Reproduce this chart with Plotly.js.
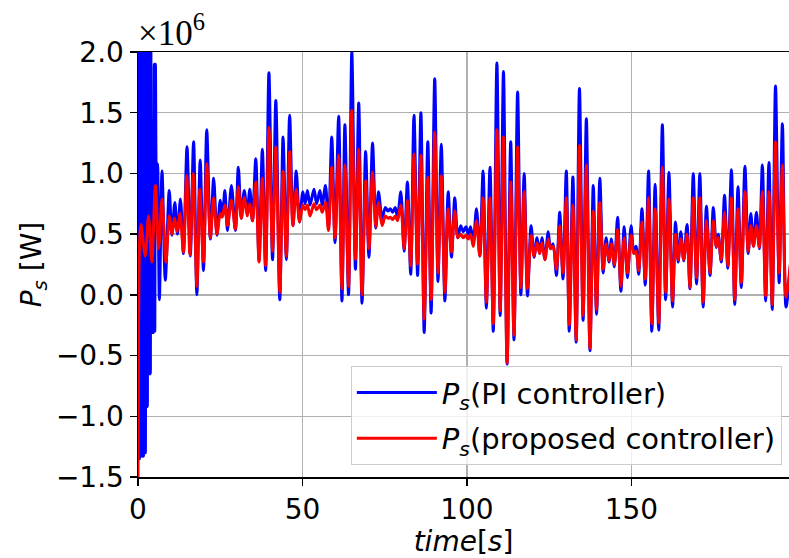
<!DOCTYPE html>
<html>
<head>
<meta charset="utf-8">
<script src="https://cdn.plot.ly/plotly-3.0.1.min.js"></script>
<style>html,body{margin:0;padding:0;background:#fff;}#chart{width:789px;height:558px;}</style>
</head>
<body>
<div id="chart"></div>
<script>
// Values in units of 10^6 W (axis shows ×10^6)
const tBlue = [0.0,0.15,0.3,0.45,0.6,0.75,0.9,1.05,1.2,1.35,1.5,1.65,1.8,1.95,2.1,2.25,2.4,2.55,2.7,2.85,3.0,3.15,3.3,3.45,3.6,3.75,3.9,4.05,4.2,4.35,4.5,4.7,4.95,5.1,5.3,5.6,5.95,6.5,7.3,8.3,9.5,10.3,11.2,12.0,12.9,13.8,14.9,15.9,16.9,17.9,18.9,19.9,20.9,22.0,23.0,24.0,25.0,25.7,26.4,27.2,28.4,29.6,30.5,31.4,32.3,
33.2,34.0,34.8,35.8,36.8,37.8,38.8,39.8,40.9,41.9,43.1,44.1,45.1,46.1,47.1,48.1,49.1,50.1,50.8,51.5,52.3,53.5,54.3,55.3,56.0,57.0,57.9,58.9,59.9,61.0,62.0,62.9,64.0,65.0,
66.1,67.1,68.1,69.2,70.2,71.3,72.3,73.1,74.2,75.2,76.0,76.7,77.4,78.2,78.9,79.9,80.9,81.9,82.9,83.9,85.0,86.0,87.0,88.1,89.1,90.2,91.2,92.2,93.3,94.3,95.3,96.3,97.2,98.1,
98.9,99.7,100.4,101.1,101.9,102.9,103.9,104.9,105.9,107.0,108.0,109.1,110.1,111.1,112.2,113.3,114.3,115.4,116.4,117.4,118.4,119.5,120.4,121.3,122.1,122.8,123.7,124.7,125.4,126.2,127.2,128.2,129.2,130.2,131.1,
132.2,133.2,134.2,135.3,136.3,137.4,138.4,139.4,140.4,141.4,142.3,143.2,143.9,144.8,145.8,146.8,147.8,148.8,149.9,150.7,151.4,152.2,153.2,154.2,155.2,156.2,157.2,158.3,159.4,160.4,161.4,162.5,163.4,
164.2,165.0,165.9,166.9,167.8,168.8,169.8,170.8,171.8,172.8,173.9,174.9,175.8,176.4,177.3,178.3,179.3,180.4,181.4,182.4,183.4,184.5,185.5,186.3,187.1,188.0,188.9,189.8,190.8,191.8,192.8,193.8,194.9,195.9,197.0,198.5];
const pBlue = [0.4,-1.35,2.3,-1.35,2.3,-1.33,2.3,-1.33,2.3,-1.33,2.3,-1.33,2.3,-1.3,2.3,-1.3,2.3,-0.92,2.3,-0.92,2.3,-0.65,2.3,-0.65,2.3,-0.65,2.3,-0.31,1.44,-0.31,1.44,-0.31,1.9,-0.3,1.9,0.9,1.08,-0.04,1.02,0.12,0.86,0.49,0.76,0.5,0.79,0.34,1.22,0.32,1.26,0.0,1.11,0.2,1.36,0.46,0.96,0.49,0.78,0.65,0.86,0.53,0.9,0.53,1.05,0.63,0.86,
0.68,0.87,0.61,1.12,0.28,1.2,0.2,1.83,0.29,1.6,-0.04,1.3,0.29,1.48,0.57,1.02,0.6,0.85,0.75,0.86,0.74,0.87,0.75,0.86,0.74,0.9,0.55,1.3,0.43,1.47,-0.05,1.4,0.0,2.0,
0.21,1.58,-0.07,1.18,0.31,1.25,0.55,0.85,0.63,0.72,0.69,0.71,0.68,0.72,0.64,0.85,0.36,0.93,0.17,1.48,0.16,1.5,-0.31,1.26,-0.15,1.78,0.11,1.24,-0.05,0.85,0.31,0.8,0.47,0.57,
0.52,0.56,0.5,0.56,0.43,0.71,0.32,1.02,-0.11,1.05,-0.3,1.91,-0.17,1.84,-0.57,1.26,-0.37,1.67,0.0,1.0,-0.01,0.57,0.31,0.47,0.34,0.47,0.29,0.52,0.38,0.42,0.16,0.68,0.13,1.02,-0.3,
0.97,-0.39,1.7,-0.21,1.45,-0.46,0.9,-0.16,0.96,0.18,0.47,0.27,0.46,0.23,0.64,0.03,0.56,0.14,0.57,0.35,0.4,0.17,0.71,0.08,1.02,-0.3,0.91,-0.29,1.4,-0.04,1.01,-0.1,0.6,
0.27,0.52,0.28,0.58,0.05,1.0,0.09,1.0,-0.1,0.73,0.16,0.72,0.39,0.5,0.27,0.82,0.22,1.03,-0.08,0.89,0.06,1.06,0.34,0.67,0.4,0.68,0.38,1.07,-0.05,1.09,-0.12,1.72,0.1,1.41,-0.1,0.3];

const tRed = [0.0,0.5,0.9,2.2,3.2,4.2,5.3,6.3,7.3,8.5,9.5,10.3,11.1,11.9,12.8,13.8,14.8,15.8,16.8,17.9,18.8,19.9,20.9,22.0,23.0,24.0,25.0,25.6,26.4,27.2,28.4,29.6,30.5,31.4,32.3,
33.2,34.0,34.8,35.8,36.8,37.8,38.8,39.8,40.9,41.9,43.1,44.1,45.1,46.1,47.1,48.1,49.1,50.1,50.8,51.5,52.3,53.5,54.3,55.3,56.0,57.0,57.9,58.9,59.9,61.0,62.0,62.9,64.0,65.0,
66.1,67.1,68.1,69.2,70.2,71.3,72.3,73.1,74.2,75.2,76.0,76.7,77.4,78.2,78.9,79.9,80.9,81.9,82.9,83.9,85.0,86.0,87.0,88.1,89.1,90.2,91.2,92.2,93.3,94.3,95.3,96.3,97.2,98.1,
98.9,99.7,100.4,101.1,101.9,102.9,103.9,104.9,105.9,107.0,108.0,109.1,110.1,111.1,112.2,113.3,114.3,115.4,116.4,117.4,118.4,119.5,120.4,121.3,122.1,122.8,123.7,124.7,125.4,126.2,127.2,128.2,129.2,130.2,131.1,
132.2,133.2,134.2,135.3,136.3,137.4,138.4,139.4,140.4,141.4,142.3,143.2,143.9,144.8,145.8,146.8,147.8,148.8,149.9,150.7,151.4,152.2,153.2,154.2,155.2,156.2,157.2,158.3,159.4,160.4,161.4,162.5,163.4,
164.2,165.0,165.9,166.9,167.8,168.8,169.8,170.8,171.8,172.8,173.9,174.9,175.8,176.4,177.3,178.3,179.3,180.4,181.4,182.4,183.4,184.5,185.5,186.3,187.1,188.0,188.9,189.8,190.8,191.8,192.8,193.8,194.9,195.9,197.0,198.5];
const pRed = [-1.5,0.45,0.58,0.32,0.65,0.27,0.9,0.38,0.79,0.27,0.65,0.5,0.63,0.52,0.67,0.35,0.98,0.33,1.0,0.07,0.87,0.27,1.08,0.47,0.8,0.5,0.67,0.64,0.74,0.57,0.78,0.54,0.89,0.63,0.8,
0.65,0.75,0.61,0.93,0.27,0.96,0.24,1.38,0.36,1.22,0.02,1.02,0.32,1.18,0.57,0.87,0.6,0.74,0.7,0.74,0.65,0.75,0.7,0.74,0.68,0.76,0.53,1.05,0.47,1.15,0.05,1.07,0.07,1.52,
0.29,1.2,0.0,0.94,0.38,1.01,0.56,0.76,0.57,0.65,0.63,0.64,0.62,0.65,0.61,0.74,0.38,0.78,0.24,1.16,0.25,1.15,-0.2,0.97,-0.04,1.34,0.18,0.98,0.02,0.71,0.35,0.69,0.47,0.5,
0.47,0.49,0.46,0.5,0.4,0.61,0.32,0.8,-0.06,0.8,-0.24,1.36,-0.13,1.3,-0.56,0.93,-0.33,1.22,0.06,0.85,0.05,0.49,0.32,0.43,0.34,0.43,0.29,0.46,0.38,0.4,0.21,0.57,0.18,0.8,-0.25,
0.74,-0.37,1.23,-0.17,1.07,-0.44,0.69,-0.12,0.76,0.21,0.42,0.28,0.42,0.25,0.54,0.07,0.47,0.18,0.49,0.34,0.36,0.2,0.6,0.13,0.8,-0.24,0.71,-0.23,1.05,0.02,0.79,-0.05,0.5,
0.29,0.46,0.29,0.5,0.06,0.8,0.14,0.8,-0.06,0.61,0.18,0.61,0.4,0.47,0.29,0.68,0.24,0.8,-0.04,0.71,0.1,0.85,0.36,0.57,0.4,0.57,0.39,0.85,-0.01,0.85,-0.08,1.26,0.18,1.07,-0.02,0.3];

const yTicks = [-1.5,-1.0,-0.5,0.0,0.5,1.0,1.5,2.0];
const yTickText = ['\u22121.5','\u22121.0','\u22120.5','0.0','0.5','1.0','1.5','2.0'];
const xTicks = [0,50,100,150];

const baseFont = {family: 'DejaVu Sans', size: 28, color: '#000'};

const traces = [
  {x: tBlue, y: pBlue, type: 'scatter', mode: 'lines', legendgroup: 'a',
   line: {color: '#0000ff', width: 3, shape: 'spline', smoothing: 0.8},
   name: '<i>P</i><sub><i>s</i></sub>(PI controller)'},
  {x: tRed, y: pRed, type: 'scatter', mode: 'lines', legendgroup: 'b',
   line: {color: '#ff0000', width: 3, shape: 'spline', smoothing: 0.8},
   name: '<i>P</i><sub><i>s</i></sub>(proposed controller)'}
];

const layout = {
  width: 789, height: 558,
  margin: {l: 138, r: 0, t: 52, b: 81},
  paper_bgcolor: '#fff', plot_bgcolor: '#fff',
  font: baseFont,
  showlegend: true,
  xaxis: {
    range: [0, 197.9], tickvals: xTicks, ticktext: xTicks.map(String),
    showgrid: true, gridcolor: '#b0b0b0', gridwidth: 1.5,
    showline: true, linecolor: '#000', linewidth: 1.5, mirror: true,
    ticks: 'outside', ticklen: 7, tickwidth: 1.5, tickcolor: '#000',
    zeroline: false, tickfont: baseFont,
    title: {text: '<i>time</i>[<i>s</i>]', font: baseFont, standoff: 4}
  },
  yaxis: {
    range: [-1.5, 2.0], tickvals: yTicks, ticktext: yTickText,
    showgrid: true, gridcolor: '#b0b0b0', gridwidth: 1.5,
    showline: true, linecolor: '#000', linewidth: 1.5, mirror: false,
    ticks: 'outside', ticklen: 7, tickwidth: 1.5, tickcolor: '#000',
    zeroline: false, tickfont: baseFont,
    title: {text: '<i>P</i><sub><i>s</i></sub> [W]', font: baseFont, standoff: 6}
  },
  legend: {
    x: 0.989, y: 0.028, xanchor: 'right', yanchor: 'bottom',
    bgcolor: 'rgba(255,255,255,0.8)', bordercolor: '#cccccc', borderwidth: 1,
    font: {family: 'DejaVu Sans', size: 29, color: '#000'},
    tracegroupgap: 5, itemwidth: 80
  },
  annotations: [{
    xref: 'paper', yref: 'paper', x: 0, y: 1, xanchor: 'left', yanchor: 'bottom',
    yshift: -3, xshift: -2, showarrow: false,
    text: '\u00d710<sup>6</sup>',
    font: {family: 'Liberation Serif', size: 35, color: '#000'}
  }]
};

Plotly.newPlot('chart', traces, layout, {displayModeBar: false, staticPlot: true});
</script>
</body>
</html>
